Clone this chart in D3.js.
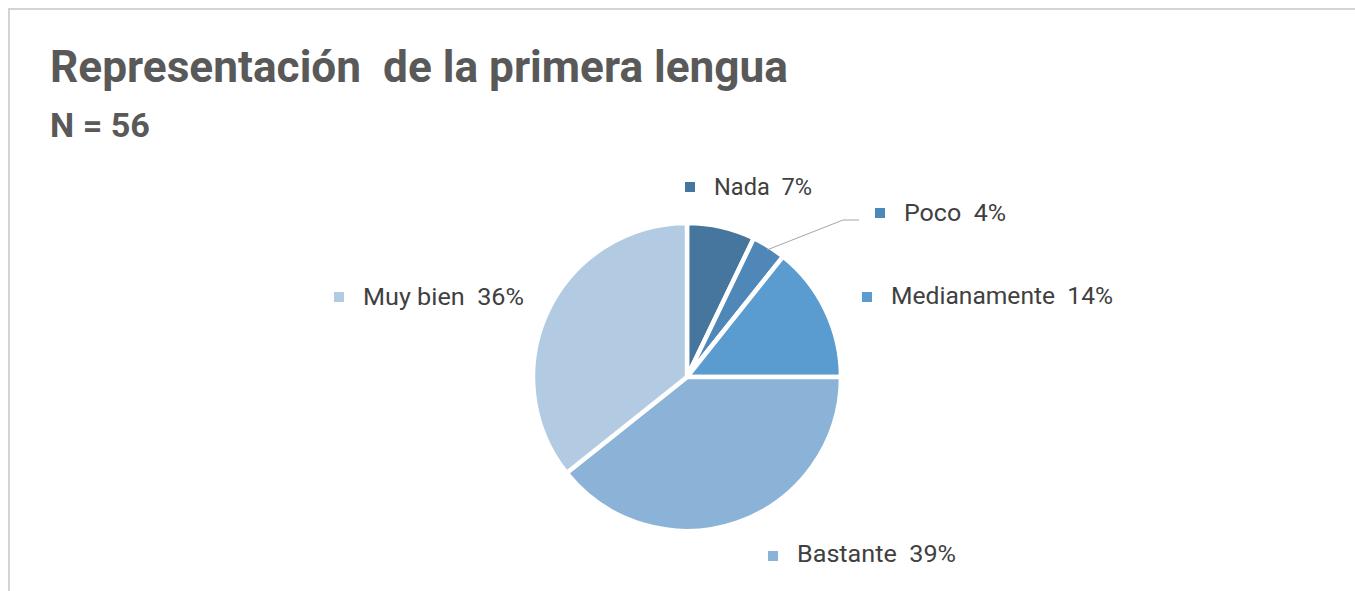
<!DOCTYPE html>
<html><head><meta charset="utf-8">
<script src="https://cdn.jsdelivr.net/npm/d3@7"></script>
<style>
html,body{margin:0;padding:0;background:#fff;}
svg{display:block;font-family:Roboto,"Noto Sans",sans-serif;}
</style></head>
<body><svg id="c" width="1355" height="591"></svg>
<script>
const categories = ["Nada", "Poco", "Medianamente", "Bastante", "Muy bien"];
const counts = [4, 2, 8, 22, 20];
const percentLabels = ["7%", "4%", "14%", "39%", "36%"];
const colors = ["#46769e", "#4f87b8", "#5a9bd0", "#8ab3d7", "#b2cae2"];

const svg = d3.select("#c");
svg.append("rect").attr("x", 9).attr("y", 9).attr("width", 1360).attr("height", 600)
  .attr("fill", "#fff").attr("stroke", "#d4d4d4").attr("stroke-width", 2);

svg.append("text").attr("x", 50).attr("y", 82).attr("fill", "#595959")
  .attr("font-size", 44).attr("font-weight", "bold").attr("xml:space","preserve")
  .attr("textLength", 738).attr("lengthAdjust", "spacingAndGlyphs")
  .text("Representación  de la primera lengua");
svg.append("text").attr("x", 50).attr("y", 137).attr("fill", "#595959")
  .attr("font-size", 33).attr("font-weight", "bold")
  .attr("textLength", 100).attr("lengthAdjust", "spacingAndGlyphs").text("N = 56");

const cx = 687, cy = 377, r = 154;
const data = categories.map((c, i) => ({cat: c, v: counts[i], lab: percentLabels[i], col: colors[i]}));
const pie = d3.pie().value(d => d.v).sort(null);
const arc = d3.arc().innerRadius(0).outerRadius(r);
const arcs = pie(data);
const g = svg.append("g").attr("transform", `translate(${cx},${cy})`);
g.selectAll("path").data(arcs).join("path")
  .attr("d", arc).attr("fill", d => d.data.col)
  .attr("stroke", "#fff").attr("stroke-width", 4.5).attr("stroke-linejoin", "round");

const pocoArc = arcs[1];
const mid = (pocoArc.startAngle + pocoArc.endAngle) / 2;
const p0 = [cx + Math.sin(mid) * (r - 4), cy - Math.cos(mid) * (r - 4)];
svg.append("polyline")
  .attr("points", `${p0[0]},${p0[1]} 843,220 859,220`)
  .attr("fill", "none").attr("stroke", "#a6a6a6").attr("stroke-width", 1);

const labelPos = [
  {x: 685, y: 187, b: 195, w: 98}, {x: 875, y: 213, b: 221, w: 102}, {x: 862, y: 297, b: 304, w: 222},
  {x: 768, y: 556, b: 562, w: 159}, {x: 334, y: 297, b: 305, w: 161}
];
data.forEach((d, i) => {
  const p = labelPos[i];
  svg.append("rect").attr("x", p.x).attr("y", p.y - 5).attr("width", 10).attr("height", 10).attr("fill", d.col);
  svg.append("text").attr("x", p.x + 29).attr("y", p.b).attr("fill", "#404040")
    .attr("font-size", 24).attr("xml:space","preserve")
    .attr("textLength", p.w).attr("lengthAdjust", "spacingAndGlyphs")
    .text(d.cat + "  " + d.lab);
});
</script></body></html>
